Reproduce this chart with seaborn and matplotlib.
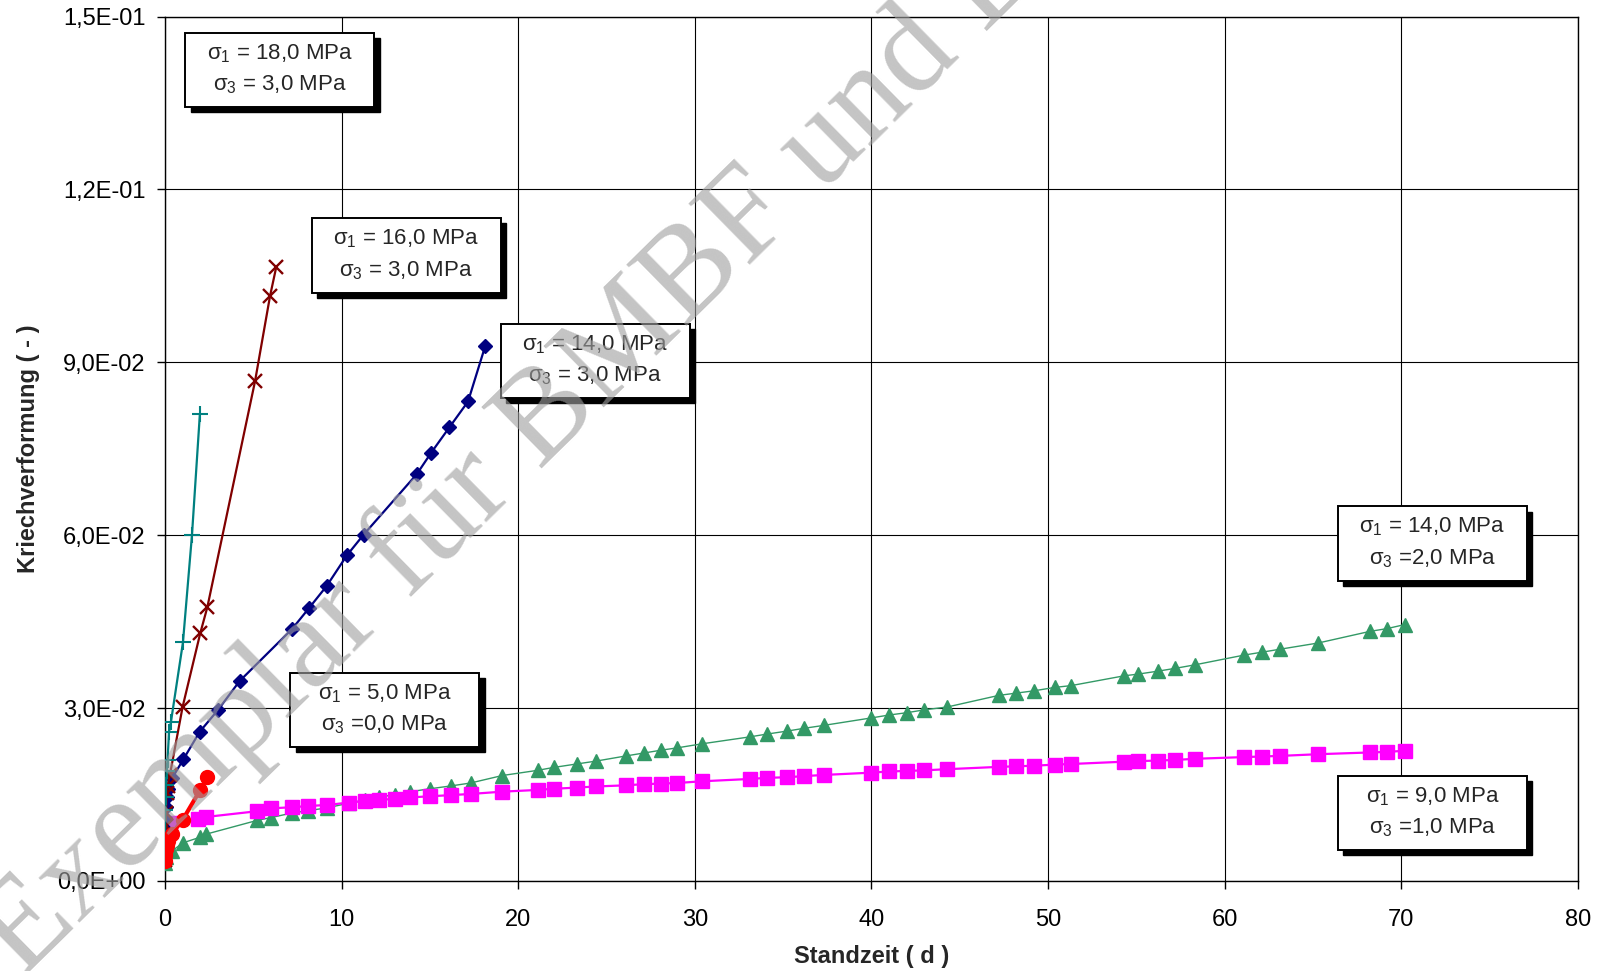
import numpy as np
import pandas as pd
import matplotlib
matplotlib.use("Agg")
import matplotlib.pyplot as plt
from matplotlib.patches import Rectangle
from matplotlib.ticker import FuncFormatter, MultipleLocator
import seaborn as sns

# --- data (days, creep strain) ---
week_t = [5.2, 6.0, 7.2, 8.1, 9.2, 10.4, 11.3, 12.1, 13.0, 13.9, 15.0, 16.2, 17.3, 19.1,
          21.1, 22.0, 23.3, 24.4, 26.1, 27.1, 28.1, 29.0, 30.4, 33.1, 34.1, 35.2, 36.2, 37.3,
          40.0, 41.0, 42.0, 43.0, 44.3, 47.2, 48.2, 49.2, 50.4, 51.3, 54.3, 55.1, 56.2, 57.2,
          58.3, 61.1, 62.1, 63.1, 65.3, 68.2, 69.2, 70.2]

green_t = [0.0, 0.05, 0.4, 1.0, 2.0, 2.3] + week_t
green_v = [0.0031, 0.0042, 0.0052, 0.0066, 0.0076, 0.0081,
           0.0105, 0.0110, 0.0118, 0.0122, 0.0127, 0.0135, 0.0140, 0.0145, 0.0150, 0.0155,
           0.0160, 0.0165, 0.0170, 0.0183, 0.0192, 0.0197, 0.0203, 0.0208,
           0.0217, 0.0222, 0.0227, 0.0231, 0.0238, 0.0250, 0.0255, 0.0260, 0.0265, 0.0270,
           0.0283, 0.0288, 0.0292, 0.0297, 0.0302, 0.0322, 0.0326, 0.0330, 0.0336, 0.0339,
           0.0356, 0.0359, 0.0364, 0.0369, 0.0375, 0.0392, 0.0397, 0.0402, 0.0413,
           0.0433, 0.0438, 0.0445]

magenta_t = [0.05, 0.3, 1.9, 2.3] + week_t
magenta_v = [0.0095, 0.0100, 0.0108, 0.0111,
             0.0121, 0.0126, 0.0128, 0.0130, 0.0132, 0.0136, 0.0139, 0.0140, 0.0143, 0.0145,
             0.0147, 0.0149, 0.0151, 0.0155, 0.0158, 0.0160, 0.0162, 0.0164,
             0.0166, 0.0168, 0.0169, 0.0170, 0.0173, 0.0177, 0.0179, 0.0180, 0.0182, 0.0184,
             0.0188, 0.0190, 0.0191, 0.0192, 0.0194, 0.0198, 0.0199, 0.0200, 0.0202, 0.0203,
             0.0207, 0.0208, 0.0209, 0.0210, 0.0212, 0.0215, 0.0216, 0.0217, 0.0220,
             0.0223, 0.0224, 0.0226]

red_t = [0.0, 0.03, 0.06, 0.1, 0.2, 0.4, 1.0, 2.0, 2.4]
red_v = [0.0035, 0.0045, 0.0055, 0.0062, 0.0070, 0.0082, 0.0106, 0.0158, 0.0180]

teal_t = [0.0, 0.02, 0.04, 0.06, 0.1, 0.15, 0.23, 0.34, 1.02, 1.53, 1.98]
teal_v = [0.0080, 0.0123, 0.0145, 0.0167, 0.0190, 0.0210, 0.0258, 0.0276, 0.0414, 0.0600, 0.0811]

darkred_t = [0.0, 0.01, 0.02, 0.04, 0.06, 0.1, 0.15, 0.28, 1.0, 2.0, 2.4, 5.1, 5.95, 6.3]
darkred_v = [0.0036, 0.0055, 0.0072, 0.0095, 0.0118, 0.0153, 0.0165, 0.0184, 0.0302,
             0.0430, 0.0475, 0.0867, 0.1015, 0.1065]

navy_t = [0.0, 0.02, 0.05, 0.1, 0.2, 0.4, 1.04, 1.97, 3.01, 4.23, 7.19, 8.17, 9.16, 10.3,
          11.25, 14.26, 15.07, 16.1, 17.16, 18.14]
navy_v = [0.0090, 0.0110, 0.0128, 0.0145, 0.0160, 0.0178, 0.0211, 0.0259, 0.0297, 0.0347,
          0.0437, 0.0474, 0.0512, 0.0565, 0.0601, 0.0706, 0.0743, 0.0787, 0.0832, 0.0929]

box_s1 = ["18,0", "16,0", "14,0", "5,0", "14,0", "9,0"]
box_s3 = [" 3,0", " 3,0", " 3,0", "0,0", "2,0", "1,0"]

# --- style ---
sns.set_theme(style="white")
plt.rcParams['font.family'] = ['Liberation Sans', 'DejaVu Sans']
plt.rcParams['mathtext.fontset'] = 'custom'
plt.rcParams['mathtext.rm'] = 'Liberation Sans'
plt.rcParams['mathtext.it'] = 'Liberation Sans'

fig = plt.figure(figsize=(16.06, 9.71), dpi=100)
ax = fig.add_axes([0.1027, 0.0927, 0.8799, 0.8903])

series = [
    (green_t, green_v, "#339966", "^", 9.5, 1.0, 1.0),
    (magenta_t, magenta_v, "#FF00FF", "s", 9.5, 1.6, 1.0),
    (navy_t, navy_v, "#000080", "D", 7, 1.6, 1.0),
    (darkred_t, darkred_v, "#800000", "x", 10, 1.6, 1.7),
    (teal_t, teal_v, "#008080", "+", 11, 1.6, 1.5),
    (red_t, red_v, "#FF0000", "o", 10, 3.0, 1.0),
]
for t, v, col, mk, ms, lw, mew in series:
    sns.lineplot(x=t, y=v, ax=ax, color=col, marker=mk, markersize=ms, linewidth=lw,
                 markeredgecolor=col, markerfacecolor=col, markeredgewidth=mew,
                 estimator=None, sort=False, zorder=3)

ax.set_xlim(0, 80)
ax.set_ylim(0, 0.15)
ax.xaxis.set_major_locator(MultipleLocator(10))
ax.yaxis.set_major_locator(MultipleLocator(0.03))
ax.yaxis.set_major_formatter(FuncFormatter(lambda v, p: f"{v:.1E}".replace('.', ',')))
ax.grid(True, color="black", linewidth=0.8)
for s in ax.spines.values():
    s.set_color("black")
    s.set_linewidth(1.0)
ax.tick_params(axis='both', direction='out', length=6, width=1, color='black',
               labelsize=17, labelcolor='black', bottom=True, left=True)
ax.tick_params(axis='y', pad=8)
ax.tick_params(axis='x', pad=14)
ax.set_xlabel("Standzeit ( d )", fontsize=17, fontweight='bold', labelpad=10)
ax.set_ylabel("Kriechverformung ( - )", fontsize=17, fontweight='bold', labelpad=12,
              family=['Liberation Sans Narrow', 'Liberation Sans'])

# annotation boxes: (left, top) in data units
box_pos = [(1.16, 0.1472), (8.3, 0.1150), (19.0, 0.0967), (7.1, 0.0361), (66.4, 0.0650), (66.4, 0.0183)]
bw, bh = 10.7, 0.0129
for (x0, y0), s1, s3 in zip(box_pos, box_s1, box_s3):
    ax.add_patch(Rectangle((x0 + 0.3, y0 - bh - 0.0009), bw, bh, facecolor="black",
                           edgecolor="black", zorder=5))
    ax.add_patch(Rectangle((x0, y0 - bh), bw, bh, facecolor="white",
                           edgecolor="black", linewidth=1.4, zorder=6))
    ax.text(x0 + bw / 2, y0 - bh * 0.28, "σ$_1$ = " + s1 + " MPa", ha="center",
            va="center", fontsize=16, zorder=7)
    ax.text(x0 + bw / 2, y0 - bh * 0.70, "σ$_3$ =" + s3 + " MPa", ha="center",
            va="center", fontsize=16, zorder=7)

# watermark
fig.text(0.014, -0.008, "Exemplar für BMBF und BGR", rotation=44.5, rotation_mode='anchor',
         ha='left', va='baseline', fontsize=94, color='#a0a0a0', alpha=0.62,
         family=['Liberation Serif', 'DejaVu Serif'], zorder=20)

fig.savefig("out.png", dpi=100)
